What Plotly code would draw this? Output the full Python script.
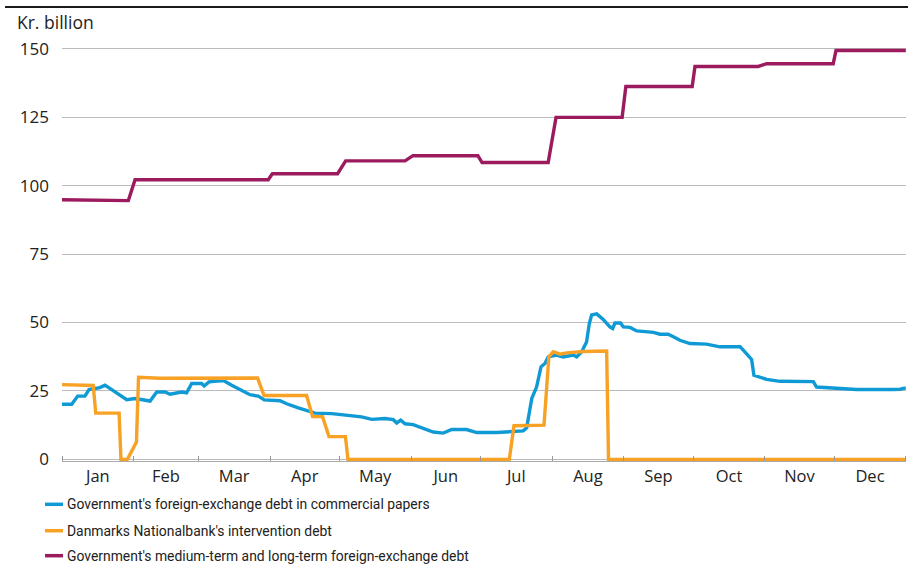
# Foreign-exchange debt, Kr. billion (daily, 1993)
import pandas as pd
import plotly.graph_objects as go

ANIO = "1993-01-01"

# Días desde el 1 de enero y valores
dias_papeles = [0, 4.2, 6.8, 9.9, 11.7, 16.4, 18.6, 21.5, 25.8, 28.0, 31.6, 38.1, 41.0, 44.6,
                46.7, 51.8, 53.9, 56.1, 60.4, 61.5, 63.6, 69.8, 73.4, 77.0, 81.3, 84.9, 87.5,
                94.3, 97.2, 101.9, 106.8, 109.4, 116.7, 123.8, 129.6, 134.0, 139.7, 143.3,
                144.8, 146.5, 148.4, 151.9, 156.3, 160.6, 164.9, 168.6, 175.0, 179.4, 188.0,
                193.8, 199.5, 201.0, 203.2, 205.3, 206.0, 207.2, 208.9, 210.3, 213.9, 216.8,
                221.2, 222.6, 224.8, 226.9, 228.1, 229.1, 231.3, 234.1, 237.0, 238.2, 239.2,
                241.6, 242.8, 245.7, 248.6, 255.8, 258.7, 262.2, 265.1, 267.3, 271.6, 278.8,
                284.6, 293.3, 294.7, 298.3, 299.3, 304.8, 310.6, 325.0, 326.4, 333.6, 343.7,
                359.6, 362.5, 365]
papeles = [20.1, 20.1, 23.1, 23.1, 25.5, 26.2, 27.1, 25.5, 22.8, 21.8, 22.2, 21.3, 24.6, 24.6,
           23.8, 24.6, 24.3, 27.7, 27.7, 26.8, 28.3, 28.8, 27.1, 25.5, 23.6, 23.1, 21.7,
           21.4, 20.3, 18.9, 17.6, 16.9, 16.7, 16.1, 15.5, 14.6, 14.9, 14.5,
           13.3, 14.3, 13.0, 12.7, 11.2, 10.0, 9.6, 10.9, 10.9, 9.8, 9.8,
           10.2, 10.4, 11.5, 22.2, 26.5, 28.9, 33.8, 35.0, 37.4, 38.1, 37.4,
           38.1, 37.4, 39.3, 42.9, 49.6, 52.7, 53.1, 51.1, 48.4, 47.8, 49.8,
           49.8, 48.4, 48.2, 46.9, 46.4, 45.7, 45.7, 44.5, 43.5, 42.3, 42.1,
           41.1, 41.1, 39.9, 36.5, 30.7, 29.2, 28.5, 28.4, 26.4, 26.0, 25.5,
           25.5, 25.6, 26.1]

dias_intervencion = [0, 13.5, 14.6, 24.7, 25.5, 28.3, 32.2, 33.1, 42.4, 70.5, 84.6, 87.4,
                     105.8, 108.4, 112.7, 115.5, 122.6, 123.7, 193.5, 195.5, 208.5, 210.6,
                     212.5, 215.4, 218.3, 225.5, 235.6, 236.4, 365]
intervencion = [27.3, 27.0, 16.9, 16.9, 0, 0, 6.3, 30.0, 29.6, 29.6, 29.7, 23.3,
                23.3, 15.6, 15.6, 8.3, 8.3, 0, 0, 12.3, 12.5, 37.5,
                39.3, 38.4, 38.9, 39.4, 39.6, 0, 0]

dias_largo = [0, 28.7, 31.6, 89.2, 91.0, 119.2, 122.7, 148.4, 151.8, 179.9, 181.7, 210.3,
              213.7, 242.3, 243.9, 272.6, 273.8, 301.2, 304.8, 333.6, 334.8, 365]
largo = [94.8, 94.5, 102.1, 102.1, 104.3, 104.3, 109.0, 109.0, 110.9, 110.9, 108.4, 108.4,
         124.9, 124.9, 136.2, 136.2, 143.5, 143.5, 144.5, 144.5, 149.3, 149.3]

nombres = ["Government's foreign-exchange debt in commercial papers",
           "Danmarks Nationalbank's intervention debt",
           "Government's medium-term and long-term foreign-exchange debt"]
colores = ["#0f9ad6", "#f7a125", "#9c1b5f"]

y_ticks = [0, 25, 50, 75, 100, 125, 150]


def a_fechas(dias):
    return pd.Timestamp(ANIO) + pd.to_timedelta(dias, unit="D")


fig = go.Figure()
series = [(dias_largo, largo, 2), (dias_papeles, papeles, 0), (dias_intervencion, intervencion, 1)]
for dias, valores, i in series:
    fig.add_trace(go.Scatter(x=a_fechas(dias), y=valores, mode="lines", name=nombres[i],
                             line=dict(color=colores[i], width=3.4)))

# Leyenda dibujada a mano (línea corta + texto)
y_leyenda = [-0.1046, -0.1684, -0.2287]
for i in range(3):
    fig.add_shape(type="line", xref="paper", yref="paper", x0=-0.0201, x1=0.0012,
                  y0=y_leyenda[i], y1=y_leyenda[i], line=dict(color=colores[i], width=3.5))
    fig.add_annotation(text=nombres[i], xref="paper", yref="paper", x=0.0030, y=y_leyenda[i],
                       xanchor="left", yanchor="middle", showarrow=False,
                       font=dict(family="Roboto", size=13.9, color="#222"))

fig.add_annotation(text="Kr. billion", xref="paper", yref="paper", x=-0.0557, y=1.0604,
                   xanchor="left", yanchor="middle", showarrow=False,
                   font=dict(size=17.5, color="#222"))
# Línea negra superior
fig.add_shape(type="line", xref="paper", yref="paper", x0=-0.0675, x1=1.0024,
              y0=1.0966, y1=1.0966, line=dict(color="#1a1a1a", width=2))

fig.update_layout(
    width=920, height=568,
    margin=dict(l=62, r=14, t=47, b=107),
    plot_bgcolor="white", paper_bgcolor="white",
    showlegend=False,
    font=dict(family="Open Sans", size=16, color="#222"),
    xaxis=dict(type="date", range=["1993-01-01", "1994-01-01 02:00"],
               tick0="1993-01-01", dtick="M1", tickformat="%b", ticklabelmode="period",
               ticks="inside", ticklen=5, tickcolor="#999", showgrid=False,
               showline=True, linecolor="#aaa", linewidth=1, ticklabelstandoff=0,
               tickfont=dict(size=16.5)),
    yaxis=dict(range=[-0.6, 150.6], tickvals=y_ticks, showgrid=True, gridcolor="#bbb",
               gridwidth=1, zeroline=False, showline=False, ticklabelstandoff=12,
               tickfont=dict(size=17)),
)

# Sin margen del body para que la figura quede en (0, 0)
fig.write_html("out.html", config={"displayModeBar": False},
               post_script="document.body.style.margin='0';")
